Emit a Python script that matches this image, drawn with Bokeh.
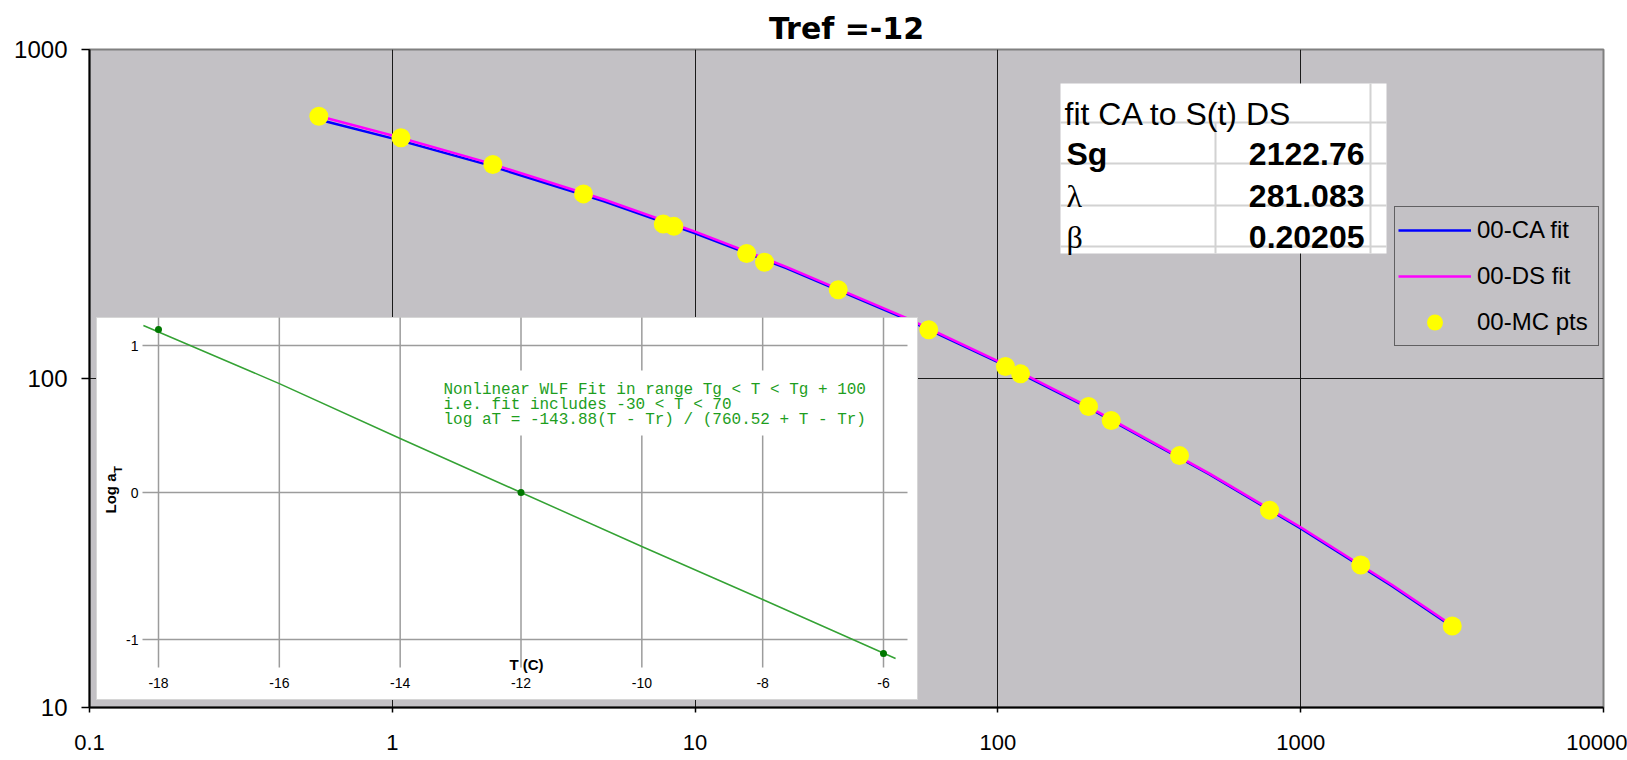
import numpy as np
from bokeh.plotting import figure
from bokeh.models import (Range1d, LinearScale, FixedTicker, Legend, LegendItem)
from bokeh.core.properties import value
from bokeh.embed import file_html
from bokeh.resources import INLINE

# ---------------- data ----------------
title_text = "Tref =-12"

# master-curve points (time, modulus)
mc_time = [0.572, 1.068, 2.148, 4.28, 7.85, 8.51, 14.8, 16.96, 29.7, 59.1,
           105.9, 118.8, 199.2, 236.7, 397.9, 789, 1579, 3166]
mc_modulus = [627, 539, 447, 364, 295, 290, 240, 225.7, 186, 140.6,
              108.8, 103.3, 82.2, 74.5, 58.3, 39.8, 27.1, 17.7]

# fitted curves
fit_time = [0.6, 1, 2, 5, 10, 20, 50, 100, 200, 500, 1000, 2000, 3166]
ca_fit = [605, 537, 449.8, 345.6, 276.4, 216.4, 151.2, 112.1, 81.2, 51.1, 35.0, 23.4, 17.6]
ds_fit = [620, 548, 457, 350, 279.5, 218.5, 152.5, 113.0, 81.8, 51.4, 35.3, 23.6, 17.75]

series_names = ["00-CA fit", "00-DS fit", "00-MC pts"]

x_ticks = [0.1, 1, 10, 100, 1000, 10000]
x_tick_labels = ["0.1", "1", "10", "100", "1000", "10000"]
y_ticks = [10, 100, 1000]
y_tick_labels = ["10", "100", "1000"]

# parameter table
table_title = "fit CA to S(t) DS"
table_params = ["Sg", "λ", "β"]
table_values = ["2122.76", "281.083", "0.20205"]

# inset: WLF shift factor
wlf_T = [-18.25, -16, -14, -12, -10, -8, -5.8]
wlf_logaT = [1.136, 0.741, 0.367, 0.0, -0.367, -0.728, -1.129]
wlf_pts_T = [-18, -12, -6]
wlf_pts_logaT = [1.109, 0.0, -1.095]
inset_xticks = [-18, -16, -14, -12, -10, -8, -6]
inset_yticks = [1, 0, -1]
inset_note = ["Nonlinear WLF Fit in range Tg < T < Tg + 100",
              "i.e. fit includes -30 < T < 70",
              "log aT = -143.88(T - Tr) / (760.52 + T - Tr)"]
inset_xlabel = "T (C)"
inset_ylabel = "Log a"
inset_ylabel_sub = "T"

# ---------------- layout (pixels) ----------------
W, H = 1627, 760
FL, FR, FT, FB = 89, 1603, 49, 707
PLOT_BG = "#c3c1c5"

# inset pixel mapping
I_PX0, I_PXPERT = 158.0, (883.0 - 158.0) / 12.0
I_Y0PX, I_PXPERU = 492.0, 147.0


def ix(px):
    return -18 + (px - I_PX0) / I_PXPERT


def iy(py):
    return (I_Y0PX - py) / I_PXPERU


p = figure(width=W, height=H, x_axis_type="log", y_axis_type="log",
           x_range=Range1d(0.1, 10000), y_range=Range1d(10, 1000),
           output_backend="svg", toolbar_location=None,
           min_border_left=FL, min_border_right=W - FR,
           min_border_top=FT, min_border_bottom=H - FB,
           background_fill_color=PLOT_BG, border_fill_color="white",
           title=title_text)

p.extra_x_ranges = {"px": Range1d(FL, FR), "ix": Range1d(ix(FL), ix(FR))}
p.extra_y_ranges = {"px": Range1d(FB, FT), "iy": Range1d(iy(FB), iy(FT))}
p.extra_x_scales = {"px": LinearScale(), "ix": LinearScale()}
p.extra_y_scales = {"px": LinearScale(), "iy": LinearScale()}

p.title.align = "center"
p.title.text_font = "DejaVu Sans"
p.title.text_font_style = "bold"
p.title.text_font_size = "30px"
p.title.text_color = "black"
p.title.standoff = 8

p.outline_line_color = "#808080"
p.outline_line_width = 2

xt = FixedTicker(ticks=x_ticks, minor_ticks=[])
yt = FixedTicker(ticks=y_ticks, minor_ticks=[])
p.xaxis.ticker = xt
p.yaxis.ticker = yt
p.xaxis.major_label_overrides = dict(zip(x_ticks, x_tick_labels))
p.yaxis.major_label_overrides = dict(zip(y_ticks, y_tick_labels))
for ax in (p.xaxis, p.yaxis):
    ax.axis_line_color = "black"
    ax.axis_line_width = 2
    ax.major_tick_line_color = "black"
    ax.major_tick_line_width = 1.5
    ax.major_tick_in = 0
    ax.minor_tick_line_color = None
    ax.major_label_text_font = "Liberation Sans"
    ax.major_label_text_color = "black"
p.xaxis.major_tick_out = 5
p.xaxis.major_label_standoff = 22
p.xaxis.major_label_text_font_size = "22px"
p.yaxis.major_tick_out = 8
p.yaxis.major_label_standoff = 14
p.yaxis.major_label_text_font_size = "24px"

p.xgrid.ticker = xt
p.ygrid.ticker = yt
p.grid.grid_line_color = "#1a1a1a"
p.grid.grid_line_alpha = 1.0
p.grid.grid_line_width = 1

# ---------------- main series ----------------
r_ca = p.line(fit_time, ca_fit, line_color="#0000ff", line_width=2.5)
r_ds = p.line(fit_time, ds_fit, line_color="#ff00ff", line_width=2.5)
r_mc = p.scatter(mc_time, mc_modulus, size=19, fill_color="#ffff00", line_color=None)

# ---------------- inset ----------------
PX = dict(x_range_name="px", y_range_name="px")
IN = dict(x_range_name="ix", y_range_name="iy")

p.quad(left=[96], right=[917], top=[317], bottom=[699], fill_color="white",
       line_color="#d6d6d6", line_width=1, **PX)

ny = len(inset_yticks)
nx = len(inset_xticks)
p.segment(x0=inset_xticks, x1=inset_xticks, y0=[iy(317)] * nx, y1=[iy(667)] * nx,
          line_color="#9c9c9c", line_width=1.5, **IN)
p.segment(x0=[ix(142)] * ny, x1=[ix(907)] * ny, y0=inset_yticks, y1=inset_yticks,
          line_color="#9c9c9c", line_width=1.5, **IN)

# note background
p.quad(left=[432], right=[876], top=[370], bottom=[435], fill_color="white",
       line_color=None, **PX)

p.line(wlf_T, wlf_logaT, line_color="#34a234", line_width=1.5, **IN)
p.scatter(wlf_pts_T, wlf_pts_logaT, size=7, fill_color="#007800", line_color=None, **IN)

p.text(x=inset_xticks, y=[iy(682)] * nx, text=[str(t) for t in inset_xticks],
       text_align="center", text_baseline="middle", text_font=value("Liberation Sans"),
       text_font_size="14px", text_color="black", **IN)
p.text(x=[ix(138)] * ny, y=inset_yticks, text=[str(t) for t in inset_yticks],
       text_align="right", text_baseline="middle", text_font=value("Liberation Sans"),
       text_font_size="14px", text_color="black", **IN)

p.text(x=[526], y=[664], text=[inset_xlabel], text_align="center", text_baseline="middle",
       text_font=value("Liberation Sans"), text_font_style="bold", text_font_size="15px",
       text_color="black", **PX)
p.text(x=[110], y=[493], text=[inset_ylabel], angle=np.pi / 2, text_align="center",
       text_baseline="middle", text_font=value("Liberation Sans"), text_font_style="bold",
       text_font_size="15px", text_color="black", **PX)
p.text(x=[117], y=[469], text=[inset_ylabel_sub], angle=np.pi / 2, text_align="center",
       text_baseline="middle", text_font=value("Liberation Sans"), text_font_style="bold",
       text_font_size="11px", text_color="black", **PX)

p.text(x=[443] * 3, y=[389, 404, 419], text=inset_note, text_align="left",
       text_baseline="alphabetic", text_font=value("Liberation Mono"),
       text_font_size="16px", text_color="#1e9e1e", **PX)

# ---------------- parameter table ----------------
p.quad(left=[1060], right=[1386], top=[83], bottom=[253], fill_color="white",
       line_color=None, **PX)
p.segment(x0=[1060] * 4, x1=[1386] * 4, y0=[122, 163, 205, 246], y1=[122, 163, 205, 246],
          line_color="#d2d2d2", line_width=2, **PX)
p.segment(x0=[1215, 1370], x1=[1215, 1370], y0=[122, 83], y1=[253, 253],
          line_color="#d2d2d2", line_width=2, **PX)
p.text(x=[1064], y=[113], text=[table_title], text_font=value("Liberation Sans"),
       text_font_size="32px", text_baseline="alphabetic", text_color="black", **PX)
row_base = [153, 195, 236]
p.text(x=[1066], y=[row_base[0]], text=[table_params[0]], text_font=value("Liberation Sans"),
       text_font_style="bold", text_font_size="32px", text_baseline="alphabetic",
       text_color="black", **PX)
p.text(x=[1066] * 2, y=row_base[1:], text=table_params[1:], text_font=value("Liberation Serif"),
       text_font_size="32px", text_baseline="alphabetic", text_color="black", **PX)
p.text(x=[1364] * 3, y=row_base, text=table_values, text_font=value("Liberation Sans"),
       text_font_style="bold", text_font_size="32px", text_align="right",
       text_baseline="alphabetic", text_color="black", **PX)

# ---------------- legend ----------------
legend = Legend(items=[LegendItem(label=series_names[0], renderers=[r_ca]),
                       LegendItem(label=series_names[1], renderers=[r_ds]),
                       LegendItem(label=series_names[2], renderers=[r_mc])],
                location=(1394 - FL, FB - 346),
                label_text_font="Liberation Sans", label_text_font_size="24px",
                label_text_color="black",
                glyph_width=73, glyph_height=40, label_height=40, label_width=118,
                label_standoff=6, spacing=6, padding=3, margin=0,
                border_line_color="black", border_line_width=1.5,
                background_fill_color=PLOT_BG, background_fill_alpha=1.0)
p.add_layout(legend)

open("out.html", "w").write(file_html(p, INLINE))
